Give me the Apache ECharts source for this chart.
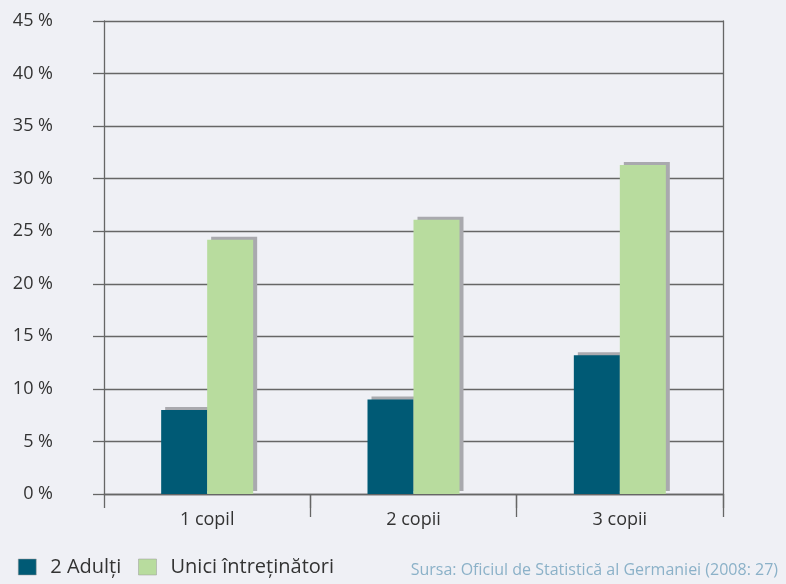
<!DOCTYPE html>
<html>
<head>
<meta charset="utf-8">
<script src="https://cdn.jsdelivr.net/npm/echarts@6/dist/echarts.min.js"></script>
<style>
html,body{margin:0;padding:0;background:#eff0f5;}
#c{width:786px;height:584px;}
</style>
</head>
<body>
<div id="c"></div>
<script>
const categories = ['1 copil', '2 copii', '3 copii'];
const seriesNames = ['2 Adulți', 'Unici întreținători'];
const adulti = [8.0, 9.0, 13.2];
const unici = [24.2, 26.1, 31.3];
const yTicks = [0, 5, 10, 15, 20, 25, 30, 35, 40, 45];
const sourceText = 'Sursa: Oficiul de Statistică al Germaniei (2008: 27)';

const FONT = '"Open Sans", "Noto Sans", sans-serif';
const LINE = '#666666';
const chart = echarts.init(document.getElementById('c'), null, {renderer: 'canvas'});
const shadow = {shadowColor: '#a9a9ae', shadowBlur: 0, shadowOffsetX: 4, shadowOffsetY: -3};

chart.setOption({
  backgroundColor: '#eff0f5',
  animation: false,
  textStyle: {fontFamily: FONT},
  title: {
    text: sourceText,
    right: 3,
    bottom: 1,
    textStyle: {fontFamily: FONT, fontSize: 16, fontWeight: 'normal', color: '#8bb1c8'}
  },
  legend: {
    left: 13,
    bottom: 2,
    itemWidth: 18,
    itemHeight: 16,
    itemGap: 17,
    icon: 'rect',
    textStyle: {fontFamily: FONT, fontSize: 20, color: '#333333', padding: [0, 0, 0, 9]},
    data: seriesNames,
    itemStyle: {borderColor: '#9a9a9a', borderWidth: 0.5}
  },
  grid: {left: 104, right: 63, top: 21, bottom: 90, show: false},
  xAxis: [{
    type: 'category',
    data: categories,
    boundaryGap: true,
    axisLine: {show: true, lineStyle: {color: LINE, width: 1.3}},
    axisTick: {show: true, length: 14, lineStyle: {color: LINE, width: 1.3}},
    axisLabel: {fontFamily: FONT, fontSize: 18, color: '#333333', margin: 17}
  }, {
    type: 'category',
    data: categories,
    position: 'bottom',
    boundaryGap: true,
    axisLine: {show: false},
    axisTick: {show: true, length: 23, interval: function (i) { return i === 1 || i === 2; }, lineStyle: {color: LINE, width: 1.3}},
    axisLabel: {show: false}
  }],
  yAxis: [{
    type: 'value',
    min: yTicks[0],
    max: yTicks[yTicks.length - 1],
    interval: 5,
    axisLine: {show: true, lineStyle: {color: LINE, width: 1.3}},
    axisTick: {show: true, length: 11, lineStyle: {color: LINE, width: 1.3}},
    splitLine: {show: true, lineStyle: {color: LINE, width: 1.3}},
    axisLabel: {fontFamily: FONT, fontSize: 18, color: '#333333', margin: 51, formatter: v => v + ' %'}
  }, {
    type: 'value',
    position: 'right',
    min: yTicks[0],
    max: yTicks[yTicks.length - 1],
    interval: 5,
    axisLine: {show: true, lineStyle: {color: LINE, width: 1.3}},
    axisTick: {show: false},
    splitLine: {show: false},
    axisLabel: {show: false}
  }],
  series: [{
    name: seriesNames[0],
    type: 'bar',
    data: adulti,
    barWidth: 46,
    barGap: '0%',
    itemStyle: Object.assign({color: '#005a75'}, shadow)
  }, {
    name: seriesNames[1],
    type: 'bar',
    data: unici,
    barWidth: 46,
    barGap: '0%',
    itemStyle: Object.assign({color: '#b8dc9e'}, shadow)
  }]
});
</script>
</body>
</html>
